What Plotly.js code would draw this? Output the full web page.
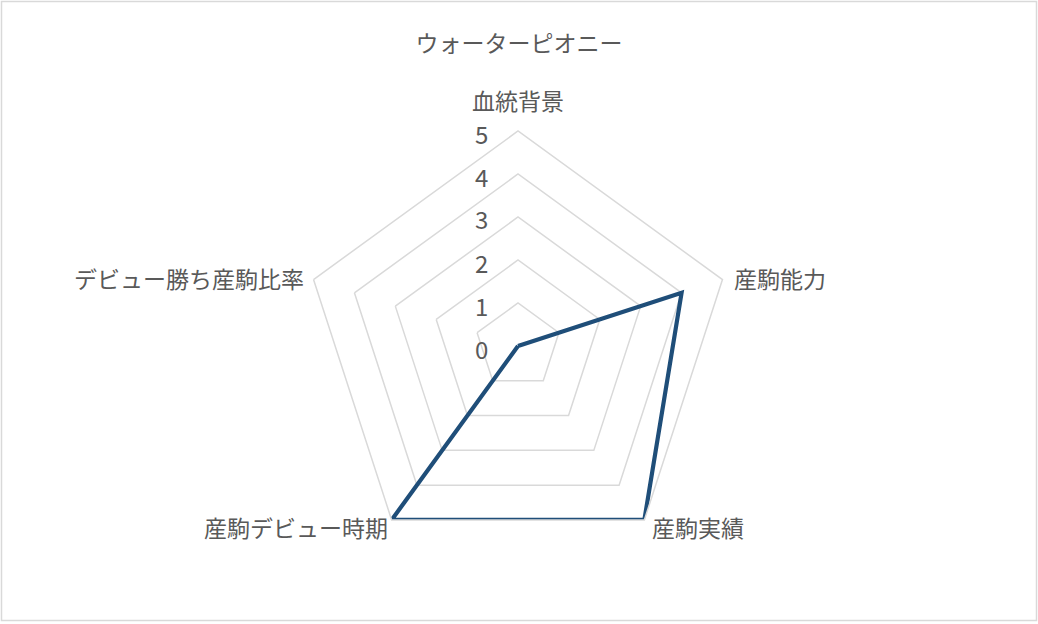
<!DOCTYPE html>
<html>
<head>
<meta charset="utf-8">
<script src="https://cdn.plot.ly/plotly-3.0.1.min.js"></script>
<style>html,body{margin:0;padding:0;background:#fff;}#chart{width:1038px;height:624px;}</style>
</head>
<body>
<div id="chart"></div>
<script>
const chartTitle = "ウォーターピオニー";
const categories = ["血統背景", "産駒能力", "産駒実績", "産駒デビュー時期", "デビュー勝ち産駒比率"];
const values = [0, 4, 5, 5, 0];
const radialTicks = [0, 1, 2, 3, 4, 5];
const radialMax = 5;

const W = 1038, H = 624;
const cx = 518, cy = 346, R = 215;
const FONT = '"Noto Sans CJK JP", "Noto Sans", sans-serif';
const TXT = '#595959';

// label placement offsets per category (layout only)
const labelOffsets = [
  {dx: 0, dy: -31, xanchor: 'center'},
  {dx: 10, dy: -2, xanchor: 'left'},
  {dx: 6, dy: 7, xanchor: 'left'},
  {dx: -2, dy: 7, xanchor: 'right'},
  {dx: -8, dy: -2, xanchor: 'right'}
];

const catAnnotations = categories.map((c, i) => {
  const ang = Math.PI / 2 - i * 2 * Math.PI / categories.length;
  const px = cx + R * Math.cos(ang) + labelOffsets[i].dx;
  const py = cy - R * Math.sin(ang) + labelOffsets[i].dy;
  return {
    text: c, xref: 'paper', yref: 'paper',
    x: px / W, y: 1 - py / H,
    xanchor: labelOffsets[i].xanchor, yanchor: 'middle',
    showarrow: false, font: {family: FONT, size: 23, color: TXT}
  };
});

// radial tick labels placed along the top spoke, left of it
const tickAnnotations = radialTicks.map(t => {
  const py = cy - (t / radialMax) * R + 2;
  return {
    text: String(t), xref: 'paper', yref: 'paper',
    x: (cx - 37) / W, y: 1 - py / H,
    xanchor: 'center', yanchor: 'middle',
    showarrow: false, font: {family: FONT, size: 24, color: TXT}
  };
});

const trace = {
  type: 'scatterpolar',
  r: values.concat([values[0]]),
  theta: categories.concat([categories[0]]),
  mode: 'lines',
  line: {color: '#1F4E79', width: 4.2},
  hoverinfo: 'skip',
  showlegend: false
};

const layout = {
  width: W, height: H,
  margin: {l: 0, r: 0, t: 0, b: 0},
  paper_bgcolor: '#fff',
  title: {text: chartTitle, x: 0.5, xanchor: 'center', y: 1 - 44 / H, yanchor: 'middle',
          font: {family: FONT, size: 23, color: TXT}},
  polar: {
    domain: {x: [(cx - R) / W, (cx + R) / W], y: [1 - (cy + R) / H, 1 - (cy - R) / H]},
    gridshape: 'linear',
    bgcolor: 'rgba(0,0,0,0)',
    angularaxis: {
      direction: 'clockwise', rotation: 90,
      categoryorder: 'array', categoryarray: categories,
      showgrid: false, showline: true, linecolor: '#D9D9D9', linewidth: 1.5,
      showticklabels: false, ticks: ''
    },
    radialaxis: {
      range: [0, radialMax], tickvals: radialTicks,
      angle: 90,
      showline: false, showgrid: true, gridcolor: '#D9D9D9', gridwidth: 1.5,
      showticklabels: false, ticks: ''
    }
  },
  annotations: catAnnotations.concat(tickAnnotations),
  shapes: [{
    type: 'rect', xref: 'paper', yref: 'paper',
    x0: 1.5 / W, x1: 1036.5 / W, y0: 1 - 620.5 / H, y1: 1 - 1.5 / H,
    line: {color: '#D9D9D9', width: 1.5}, fillcolor: 'rgba(0,0,0,0)', layer: 'below'
  }]
};

Plotly.newPlot('chart', [trace], layout, {displayModeBar: false, staticPlot: true});
</script>
</body>
</html>
